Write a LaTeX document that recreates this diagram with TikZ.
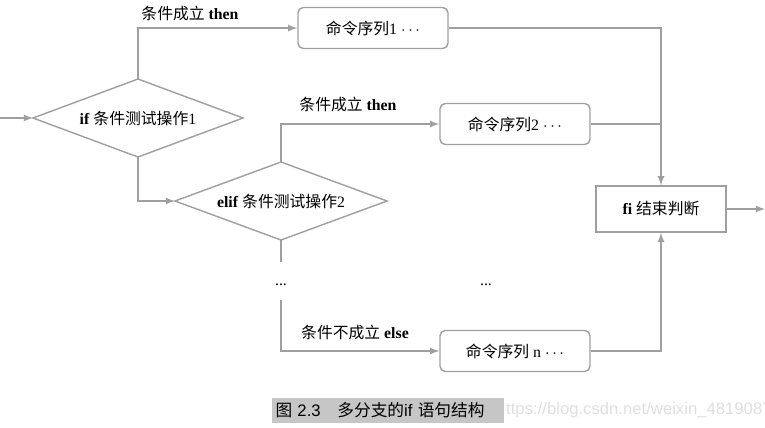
\documentclass[tikz,border=0pt]{standalone}
\usepackage{fontspec}
\setmainfont{Liberation Serif}
\newfontfamily\cjk{Noto Sans CJK SC}
\newfontfamily\capfont{Liberation Sans}
\usetikzlibrary{arrows, positioning}

\begin{document}
\begin{tikzpicture}[x=0.02cm,y=-0.02cm,font=\fontsize{9}{11}\selectfont]
    \tikzstyle{line}=[draw=gray!75, thick]
    \tikzstyle{arr}=[line, -latex]
    \tikzstyle{cmd}=[line, rounded corners=3pt, minimum width=3cm, minimum height=0.82cm]
    \tikzstyle{test}=[line, inner sep=0pt]
    \tikzstyle{lbl}=[inner sep=1pt]

    \useasboundingbox (0,0) rectangle (765,427);

    % decisions
    \path[test] (33,118) coordinate (T1w) -- (138,79) coordinate (T1n) -- (243,118) -- (138,157) coordinate (T1s) -- cycle;
    \node (T1) at (138,118) {\textbf{if} {\cjk 条件测试操作}1};
    \path[test] (175,201) coordinate (T2w) -- (281,162) coordinate (T2n) -- (387,201) -- (281,240) coordinate (T2s) -- cycle;
    \node (T2) at (281,201) {\textbf{elif} {\cjk 条件测试操作}2};

    % commands
    \node[cmd] (C1) at (373,28) {{\cjk 命令序列}1 $\cdots$};
    \node[cmd] (C2) at (515,124) {{\cjk 命令序列}2 $\cdots$};
    \node[cmd] (Cn) at (515,351) {{\cjk 命令序列} n $\cdots$};
    \node[line, minimum width=2.6cm, minimum height=0.92cm] (F) at (661,209) {\textbf{fi} {\cjk 结束判断}};

    \coordinate (in) at (0,118);
    \coordinate (out) at (765,209);
    \coordinate (D2) at (281,262);
    \coordinate (D3) at (281,300);

    \node[lbl] (L1) at (190,13) {{\cjk 条件成立} \textbf{then}};
    \node[lbl] (L2) at (348,104) {{\cjk 条件成立} \textbf{then}};
    \node[lbl] (L3) at (355,332) {{\cjk 条件不成立} \textbf{else}};
    \node (dots1) at (281,285) {...};
    \node (dots2) at (486,285) {...};

    \draw[arr] (in) -- (T1w);
    \draw[arr] (T1n) |- (C1.west);
    \draw[arr] (T1s) |- (T2w);
    \draw[arr] (T2n) |- (C2.west);
    \draw[line] (T2s) -- (D2);
    \draw[arr] (D3) |- (Cn.west);
    \draw[arr] (C1.east) -| (F.north);
    \draw[line] (C2.east) -- (C2.east -| F.north);
    \draw[arr] (Cn.east) -| (F.south);
    \draw[arr] (F.east) -- (out);

    % caption
    \node[fill=gray!45, inner sep=2pt, minimum height=0.5cm, text width=4.5cm] (cap) at (388,410)
        {\capfont\fontsize{9.5}{11}\selectfont{\cjk 图} 2.3\quad{\cjk 多分支的}if {\cjk 语句结构}};
    \node[text=gray!25, font=\capfont\fontsize{9.5}{11}\selectfont, anchor=west] (wm) at (500,410) {ttps://blog.csdn.net/weixin\_48190876};
\end{tikzpicture}
\end{document}
